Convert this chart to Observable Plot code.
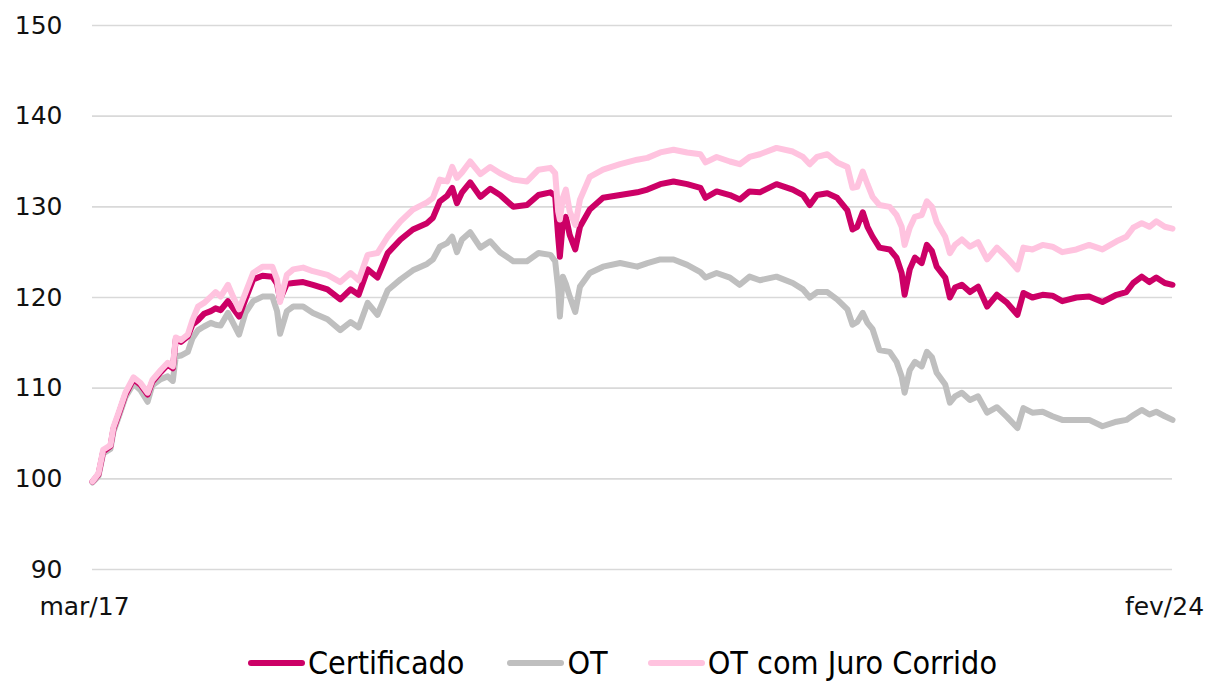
<!DOCTYPE html>
<html>
<head>
<meta charset="utf-8">
<script src="https://cdn.jsdelivr.net/npm/d3@7"></script>
<script src="https://cdn.jsdelivr.net/npm/@observablehq/plot@0.6"></script>
<style>
  html, body { margin: 0; padding: 0; background: #fff; }
  body { width: 1209px; height: 682px; overflow: hidden; font-family: "DejaVu Sans", sans-serif; }
  #chart svg { display: block; }
  #legend { display: flex; justify-content: flex-start; align-items: center; height: 38px; padding-left: 248px; padding-top: 4px; box-sizing: content-box;
    font-family: "DejaVu Sans Condensed", "DejaVu Sans", sans-serif; font-stretch: condensed; font-size: 32px; line-height: 1; color: #000; }
  .item { display: flex; align-items: center; }
  .sw { width: 57px; height: 6px; border-radius: 3px; margin-right: 3px; }
</style>
</head>
<body>
<div id="chart"></div>
<div id="legend"></div>
<script>
const dates = ["2017-03-01","2017-03-15","2017-03-26","2017-04-12","2017-04-19","2017-05-01","2017-05-17","2017-06-05","2017-06-21","2017-07-08",
"2017-07-19","2017-08-08","2017-08-24","2017-09-05","2017-09-12","2017-09-24","2017-10-10","2017-10-21","2017-11-03","2017-11-17",
"2017-12-03","2017-12-14","2017-12-26","2018-01-12","2018-01-24","2018-02-07","2018-02-22","2018-03-12","2018-04-03","2018-04-26",
"2018-05-07","2018-05-14","2018-05-30","2018-06-14","2018-07-07","2018-07-30","2018-09-02","2018-10-02","2018-10-26","2018-11-14",
"2018-12-05","2018-12-28","2019-01-21","2019-02-20","2019-03-21","2019-04-23","2019-05-07","2019-05-23","2019-06-09","2019-06-21",
"2019-07-02","2019-07-14","2019-08-02","2019-08-26","2019-09-18","2019-10-11","2019-11-11","2019-12-13","2020-01-09","2020-02-06",
"2020-02-17","2020-02-24","2020-02-28","2020-03-06","2020-03-13","2020-03-22","2020-04-04","2020-04-15","2020-05-08","2020-06-08",
"2020-07-18","2020-08-27","2020-09-20","2020-10-20","2020-11-20","2020-12-22","2021-01-22","2021-02-03","2021-03-01","2021-04-01",
"2021-04-24","2021-05-17","2021-06-10","2021-07-19","2021-08-26","2021-09-19","2021-10-05","2021-10-22","2021-11-15","2021-12-08",
"2022-01-01","2022-01-13","2022-01-24","2022-02-06","2022-02-17","2022-03-01","2022-03-17","2022-04-10","2022-04-26","2022-05-08",
"2022-05-15","2022-05-27","2022-06-08","2022-06-24","2022-07-06","2022-07-18","2022-07-29","2022-08-18","2022-08-29","2022-09-10",
"2022-09-26","2022-10-15","2022-11-03","2022-11-24","2022-12-17","2023-01-10","2023-02-03","2023-02-17","2023-03-10","2023-04-03",
"2023-04-26","2023-05-19","2023-06-21","2023-07-21","2023-08-21","2023-09-23","2023-10-16","2023-11-01","2023-11-21","2023-12-09",
"2023-12-25","2024-01-14","2024-02-01"];

const otJuro = [99.7,100.6,103.2,103.7,105.7,107.3,109.5,111.2,110.6,109.5,
110.9,112.0,112.8,112.4,115.6,115.3,115.9,117.5,119.0,119.4,
120.1,120.6,120.1,121.4,120.1,118.7,120.5,122.7,123.4,123.4,
122.0,119.5,122.5,123.1,123.3,122.9,122.5,121.7,122.7,121.9,
124.7,124.9,126.7,128.4,129.7,130.5,131.0,133.0,132.8,134.4,
133.2,133.8,135.0,133.6,134.4,133.7,133.0,132.8,134.1,134.3,
133.7,129.5,128.6,131.0,131.9,129.5,128.0,130.8,133.3,134.1,
134.7,135.2,135.4,136.0,136.3,136.0,135.8,134.9,135.5,135.0,
134.7,135.5,135.8,136.5,136.1,135.5,134.7,135.5,135.8,134.9,
134.4,132.1,132.2,133.9,132.5,131.1,130.2,130.0,129.1,127.8,
125.8,127.7,128.9,129.1,130.6,130.0,128.3,126.7,124.9,125.8,
126.4,125.6,126.1,124.2,125.5,124.4,123.1,125.5,125.3,125.8,
125.6,125.0,125.3,125.8,125.3,126.2,126.7,127.7,128.2,127.8,
128.4,127.8,127.6];

const certificado = [99.7,100.5,103.0,103.6,105.5,107.1,109.3,111.0,110.4,109.3,
110.7,111.8,112.6,112.2,115.4,115.1,115.7,117.0,117.5,118.2,
118.5,118.8,118.6,119.6,118.8,117.9,119.8,122.0,122.4,122.3,
121.5,119.8,121.5,121.6,121.7,121.4,120.9,119.8,120.9,120.3,
123.1,122.2,124.9,126.4,127.5,128.2,128.8,130.6,131.2,132.1,
130.4,131.6,132.7,131.1,132.0,131.3,130.0,130.2,131.3,131.6,
131.2,126.7,124.5,128.3,128.9,126.9,125.3,127.8,129.7,131.0,
131.3,131.6,131.9,132.5,132.8,132.5,132.1,131.0,131.7,131.3,
130.8,131.7,131.6,132.5,131.9,131.3,130.2,131.3,131.5,131.0,
129.6,127.5,127.8,129.4,127.8,126.7,125.5,125.3,124.4,122.7,
120.3,123.1,124.4,123.8,125.8,125.1,123.4,122.2,120.0,121.1,
121.4,120.6,121.2,119.0,120.3,119.4,118.1,120.5,120.0,120.3,
120.2,119.6,120.0,120.1,119.5,120.3,120.6,121.6,122.3,121.7,
122.2,121.6,121.4];

const ot = [99.6,100.3,102.8,103.3,105.2,106.8,109.0,110.5,109.8,108.5,
110.3,111.0,111.3,110.8,113.5,113.6,114.0,115.5,116.4,116.8,
117.2,117.0,116.9,118.3,117.2,115.9,118.3,119.6,120.1,120.1,
118.5,116.0,118.5,119.0,119.0,118.3,117.6,116.4,117.3,116.7,
119.4,118.1,120.8,122.0,123.0,123.7,124.2,125.6,126.0,126.7,
125.0,126.4,127.2,125.5,126.2,125.0,124.0,124.0,124.9,124.7,
124.0,121.0,117.9,122.3,121.5,120.1,118.4,121.2,122.7,123.4,
123.8,123.4,123.8,124.2,124.2,123.6,122.8,122.2,122.7,122.2,
121.4,122.3,121.9,122.3,121.6,120.9,120.0,120.6,120.6,119.8,
118.7,117.0,117.3,118.3,117.2,116.5,114.2,114.0,112.9,111.3,
109.5,112.0,112.9,112.4,114.0,113.4,111.7,110.4,108.4,109.1,
109.5,108.7,109.1,107.3,107.9,106.8,105.6,107.8,107.3,107.4,
106.9,106.5,106.5,106.5,105.8,106.3,106.5,107.0,107.6,107.1,
107.4,106.9,106.5];

const seriesNames = ["Certificado", "OT", "OT com Juro Corrido"];
const seriesColors = ["#cc0066", "#bfbfbf", "#ffc3df"];
const yTicks = [90, 100, 110, 120, 130, 140, 150];
const xTickDates = ["2017-03-01", "2024-02-01"];
const xTickLabels = ["mar/17", "fev/24"];

const parse = d3.utcParse("%Y-%m-%d");
const rows = [];
[certificado, ot, otJuro].forEach((vals, s) => {
  vals.forEach((v, i) => rows.push({date: parse(dates[i]), value: v, series: seriesNames[s]}));
});
const xTicks = xTickDates.map(parse);
const drawOrder = ["OT", "Certificado", "OT com Juro Corrido"];

const chart = Plot.plot({
  width: 1209,
  height: 640,
  marginLeft: 92,
  marginRight: 37,
  marginTop: 25,
  marginBottom: 71,
  style: {fontFamily: "'DejaVu Sans', sans-serif", fontSize: "25px", color: "#111", background: "#fff"},
  x: {type: "utc", domain: xTicks, label: null},
  y: {domain: [90, 150], label: null},
  color: {domain: seriesNames, range: seriesColors},
  marks: [
    Plot.gridY(yTicks, {stroke: "#d9d9d9", strokeOpacity: 1, strokeWidth: 1.6}),
    Plot.axisY(yTicks, {tickSize: 0, tickPadding: 30, fontSize: 25, label: null, tickFormat: d => String(d)}),
    Plot.axisX(xTicks, {tickSize: 0, tickPadding: 28, fontSize: 25, dx: -8, label: null,
      tickFormat: d => xTickLabels[xTicks.findIndex(t => +t === +d)]}),
    ...drawOrder.map(name => Plot.line(rows.filter(r => r.series === name), {
      x: "date", y: "value", stroke: "series", strokeWidth: 6, strokeLinejoin: "round", strokeLinecap: "round"
    }))
  ]
});
document.getElementById("chart").appendChild(chart);

const legendGaps = [43, 40, 0];
const legend = document.getElementById("legend");
seriesNames.forEach((name, i) => {
  const item = document.createElement("div");
  item.className = "item";
  item.style.marginRight = legendGaps[i] + "px";
  const sw = document.createElement("div");
  sw.className = "sw";
  sw.style.background = seriesColors[i];
  const label = document.createElement("span");
  label.textContent = name;
  item.appendChild(sw);
  item.appendChild(label);
  legend.appendChild(item);
});
</script>
</body>
</html>
